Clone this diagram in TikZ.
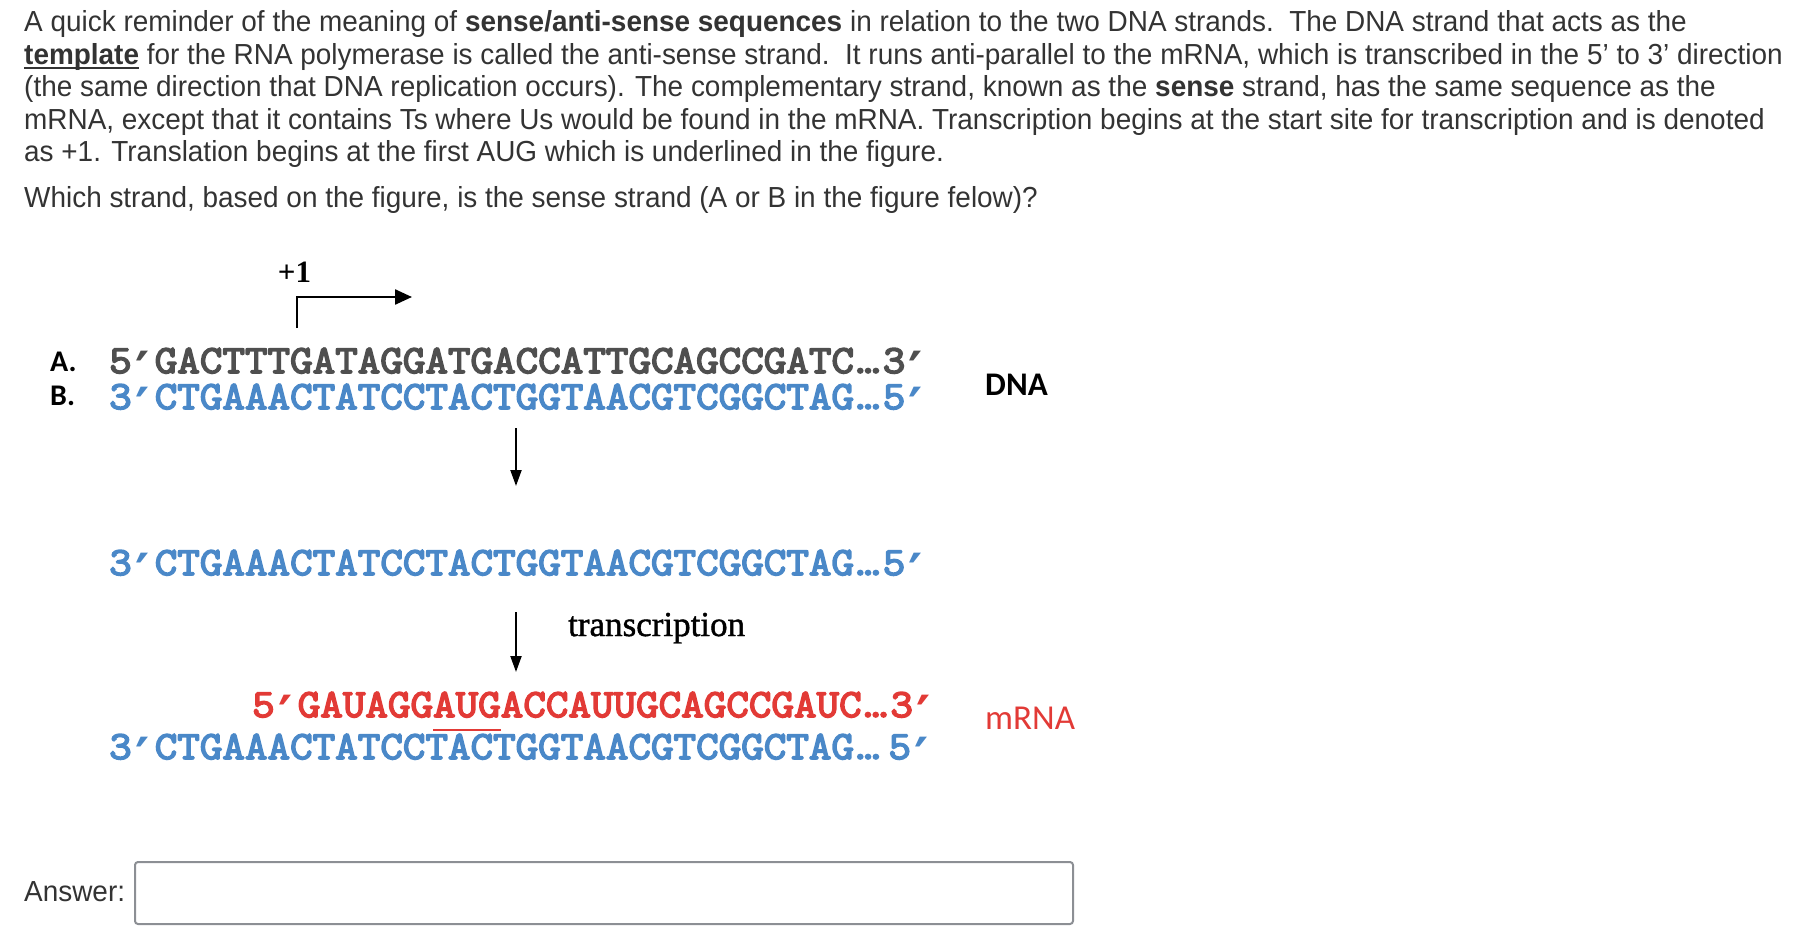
\documentclass[tikz,border=0pt]{standalone}
\usepackage{fontspec}
\usetikzlibrary{arrows.meta}
\setmainfont{Liberation Sans}[FakeStretch=0.963]
\newfontfamily\seqfont{Latin Modern Mono}[FakeStretch=1.095, FakeBold=4]
\newfontfamily\prfont{DejaVu Sans}
\newfontfamily\calfont{Carlito}
\newfontfamily\tmsfont{Liberation Serif}
\newfontfamily\tmsheavy{Liberation Serif}[FakeBold=1.2]
\definecolor{bodytxt}{HTML}{333333}
\definecolor{seqgray}{HTML}{4F4F4F}
\definecolor{seqblue}{HTML}{4A88C8}
\definecolor{seqred}{HTML}{E23A36}
\definecolor{boxgray}{HTML}{8C8F94}
\newdimen\cw \cw=23pt
\newcommand\pr{\makebox[\cw][l]{\kern3.5pt\smash{\raisebox{-17pt}{\prfont\bfseries\fontsize{54}{54}\selectfont ′}}}}
\newcommand\el{\hbox to 1.25\cw{\kern-0.22\cw\rlap{.}\kern0.34\cw\rlap{.}\kern0.34\cw\rlap{.}\hss}}
\newcommand\ulbox[1]{{\setbox0\hbox{#1}\rlap{\vrule width \wd0 height -2.2pt depth 4.4pt}\box0}}
\tikzset{
  para/.style={anchor=base west, inner sep=0pt, text=bodytxt, font=\fontsize{29}{32}\selectfont},
  seq/.style={anchor=base west, inner sep=0pt, text height=25pt, text depth=3pt, font=\seqfont\fontsize{40}{42}\selectfont},
  lbl/.style={anchor=base west, inner sep=0pt, text=black, font=\calfont\bfseries\fontsize{30}{32}\selectfont},
  flow/.style={line width=2pt, -{Triangle[length=16pt,width=11pt]}},
}
\begin{document}
\begin{tikzpicture}[x=1pt,y=-1pt]
\useasboundingbox (0,0) rectangle (1806,950);
% paragraph
\node[para] (l1) at (24,32) {A quick reminder of the meaning of \textbf{sense/anti-sense sequences} in relation to the two DNA strands.\ \ The DNA strand that acts as the};
\node[para] (l2) at (24,64.5) {\textbf{\ulbox{template}} for the RNA polymerase is called the anti-sense strand.\ \ It runs anti-parallel to the mRNA, which is transcribed in the 5’ to 3’ direction};
\node[para] (l3) at (24,96.7) {(the same direction that DNA replication occurs). The complementary strand, known as the \textbf{sense} strand, has the same sequence as the};
\node[para] (l4) at (24,129) {mRNA, except that it contains Ts where Us would be found in the mRNA. Transcription begins at the start site for transcription and is denoted};
\node[para] (l5) at (24,161) {as +1. Translation begins at the first AUG which is underlined in the figure.};
\node[para] (q) at (24,207) {Which strand, based on the figure, is the sense strand (A or B in the figure felow)?};
% +1 start arrow
\node[anchor=base, inner sep=0pt, font=\tmsfont\bfseries\fontsize{31}{33}\selectfont] (plus) at (294.5,282) {+1};
\coordinate (s0) at (297,328);
\coordinate (s1) at (297,297);
\coordinate (s2) at (412,297);
\draw[line width=2.4pt, -{Triangle[length=17pt,width=15pt]}] (s0) -- (s1) -- (s2);
% DNA strands
\node[lbl] (la) at (50,371) {A.};
\node[lbl] (lb) at (50,405) {B.};
\node[seq, text=seqgray] (sa) at (109,373) {5\pr GACTTTGATAGGATGACCATTGCAGCCGATC\el 3\pr};
\node[seq, text=seqblue] (sb) at (109,409) {3\pr CTGAAACTATCCTACTGGTAACGTCGGCTAG\el 5\pr};
\node[anchor=base west, inner sep=0pt, font=\calfont\bfseries\fontsize{33}{35}\selectfont] (dna) at (985,395) {DNA};
% arrow 1
\coordinate (a1s) at (516,428);
\coordinate (a1e) at (516,486);
\draw[flow] (a1s) -- (a1e);
% template strand
\node[seq, text=seqblue] (tb) at (109,575) {3\pr CTGAAACTATCCTACTGGTAACGTCGGCTAG\el 5\pr};
% arrow 2
\coordinate (a2s) at (516,612);
\coordinate (a2e) at (516,672);
\draw[flow] (a2s) -- (a2e);
\node[anchor=base west, inner sep=0pt, font=\tmsheavy\fontsize{35}{37}\selectfont] (tr) at (568,636) {transcription};
% mRNA
\node[seq, text=seqred] (rm) at (252,717) {5\pr GAUAGGAUGACCAUUGCAGCCGAUC\el 3\pr};
\node[anchor=base west, inner sep=0pt, text=seqred, font=\calfont\fontsize{35}{37}\selectfont] (mrna) at (985,729) {mRNA};
\coordinate (u0) at (433,730);
\coordinate (u1) at (501,730);
\draw[seqred, line width=2.5pt] (u0) -- (u1);
\node[seq, text=seqblue] (bb) at (109,759) {3\pr CTGAAACTATCCTACTGGTAACGTCGGCTAG\el\kern0.25\cw 5\pr};
% answer
\node[para] (ans) at (24,901) {Answer:};
\node[draw=boxgray, line width=2pt, rounded corners=3pt, minimum width=938pt, minimum height=62pt, inner sep=0pt, anchor=north west] (box) at (134,861) {};
\end{tikzpicture}
\end{document}
